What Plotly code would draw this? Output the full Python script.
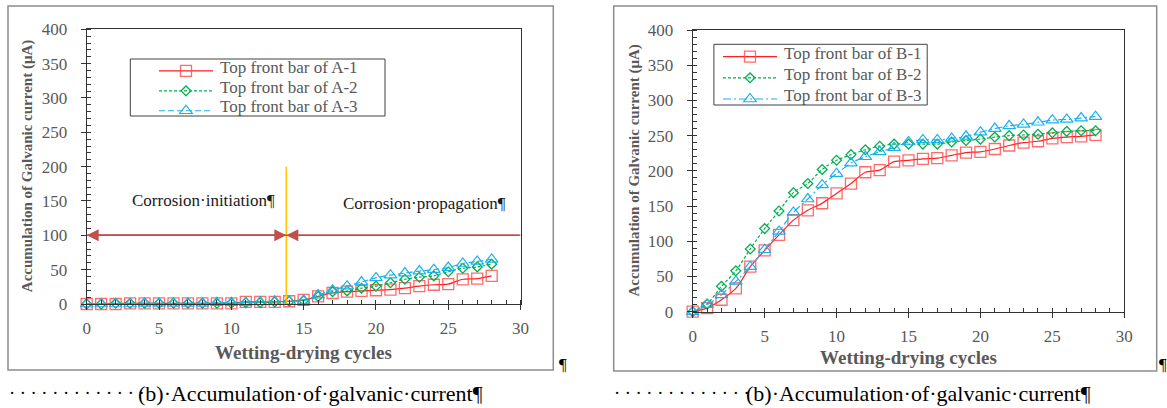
import plotly.graph_objects as go

# ---------------- data ----------------
cycles = list(range(0, 29))

a1 = [0, 0, 0, 1, 1, 1, 1, 1, 1, 1, 1, 3, 3, 3, 4, 6, 11, 16, 18, 19, 20, 21, 23, 26, 28, 29, 36, 37, 41]
a2 = [0, 0, 1, 1, 1, 1, 1, 1, 1, 1, 1, 2, 2, 3, 4, 5, 11, 18, 19, 23, 26, 31, 36, 39, 41, 47, 52, 54, 58]
a3 = [0, 0, 0, 0, 1, 1, 1, 1, 1, 2, 2, 2, 3, 4, 4, 5, 13, 20, 26, 32, 38, 42, 45, 48, 50, 53, 59, 62, 65]

b1 = [0, 5, 17, 33, 64, 87, 109, 130, 144, 154, 168, 182, 198, 201, 213, 215, 217, 218, 222, 226, 227, 231, 236, 240, 242, 246, 248, 249, 251]
b2 = [0, 11, 36, 58, 89, 118, 143, 169, 182, 202, 215, 223, 230, 235, 238, 238, 238, 238, 241, 243, 245, 248, 250, 251, 252, 254, 256, 257, 257]
b3 = [0, 10, 24, 43, 64, 88, 114, 141, 160, 180, 196, 211, 220, 227, 233, 241, 244, 244, 246, 249, 255, 260, 264, 266, 269, 272, 273, 275, 277]

names_a = ["Top front bar of A-1", "Top front bar of A-2", "Top front bar of A-3"]
names_b = ["Top front bar of B-1", "Top front bar of B-2", "Top front bar of B-3"]

x_range = [0, 30]
y_range = [0, 400]
x_ticks = [0, 5, 10, 15, 20, 25, 30]
y_ticks = [0, 50, 100, 150, 200, 250, 300, 350, 400]

x_title = "Wetting-drying cycles"
y_title = "Accumulation of Galvanic current (μA)"
caption = "(b)·Accumulation·of·galvanic·current¶"

# annotation values on chart A
stage_boundary = 13.8      # cycle where propagation starts
arrow_level = 100          # y level of the stage arrows
boundary_top = 200         # top of the orange boundary line
label_init = "Corrosion·initiation¶"
label_prop = "Corrosion·propagation¶"
label_init_pos = (3.0, 151)
label_prop_pos = (17.6, 147)

# ---------------- layout helpers ----------------
W, H = 1167, 408
def fx(px):
    return px / W
def fy(py):
    return 1 - py / H

SERIF = "Liberation Serif"
GREY = "#595959"
AXC = "#333333"

RED_L = "#FF1F1F"
RED_M = "rgba(255,70,70,0.8)"
GRN = "#00B050"
BLU = "#1AB2EE"

fig = go.Figure()

def add_series(xa, ya, leg, vals, name, kind):
    if kind == 0:
        line = dict(color=RED_L, width=1.2, shape="spline", smoothing=0.8)
        marker = dict(symbol="square-open", size=11, color=RED_M, line=dict(width=1.3, color=RED_M))
    elif kind == 1:
        line = dict(color=GRN, width=1.2, dash="3px,2px", shape="spline", smoothing=0.8)
        marker = dict(symbol="diamond-open", size=7.5, color=GRN, line=dict(width=1.3, color=GRN))
    else:
        line = dict(color=BLU, width=1.2, dash=("6px,3px" if leg == "legend" else "8px,3px,2px,3px"),
                    shape="spline", smoothing=0.8)
        marker = dict(symbol="triangle-up-open", size=11, color=BLU, line=dict(width=1.2, color=BLU))
    # legend text is written as annotations below (to keep Word-like row spacing)
    fig.add_trace(go.Scatter(x=cycles, y=vals, name="", mode="lines+markers",
                             line=line, marker=marker, xaxis=xa, yaxis=ya,
                             legend=leg, cliponaxis=False, hovertext=name))

for k, (v, n) in enumerate(zip([a1, a2, a3], names_a)):
    add_series("x", "y", "legend", v, n, k)
for k, (v, n) in enumerate(zip([b1, b2, b3], names_b)):
    add_series("x2", "y2", "legend2", v, n, k)

def xaxis_cfg(dom, anchor):
    return dict(domain=dom, anchor=anchor, range=x_range, tickvals=x_ticks, automargin=False,
                showgrid=False, zeroline=False, showline=True, linecolor=AXC, linewidth=1,
                mirror=True, ticks="outside", ticklen=5, tickcolor=AXC, tickwidth=1,
                minor=dict(dtick=1, ticks="inside", ticklen=4, tickcolor=AXC, tickwidth=1, showgrid=False),
                tickfont=dict(family=SERIF, size=17, color=GREY), ticklabelstandoff=4)

def yaxis_cfg(dom, anchor):
    return dict(domain=dom, anchor=anchor, range=y_range, tickvals=y_ticks, automargin=False,
                showgrid=False, zeroline=False, showline=True, linecolor=AXC, linewidth=1,
                mirror=True, ticks="outside", ticklen=5, tickcolor=AXC, tickwidth=1,
                minor=dict(dtick=10, ticks="inside", ticklen=4, tickcolor=AXC, tickwidth=1, showgrid=False),
                tickfont=dict(family=SERIF, size=17, color=GREY), ticklabelstandoff=10)

# plot areas (pixels)
L = dict(x0=86.7, x1=520.6, y0=29.3, y1=304.0)
R = dict(x0=692.7, x1=1124.3, y0=30.0, y1=311.7)

# legend rows (pixels)
LEG_L = dict(box=(130.3, 59, 385, 116), line_x=154, text_x=219, rows=[68, 87.5, 107], top=56)
LEG_R = dict(box=(713.9, 44.3, 927.2, 105), line_x=718, text_x=782.6, rows=[53.3, 74, 95], top=41)

fig.update_layout(
    width=W, height=H, margin=dict(l=0, r=0, t=0, b=0, pad=0, autoexpand=False),
    paper_bgcolor="white", plot_bgcolor="white",
    xaxis=xaxis_cfg([fx(L["x0"]), fx(L["x1"])], "y"),
    yaxis=yaxis_cfg([fy(L["y1"]), fy(L["y0"])], "x"),
    xaxis2=xaxis_cfg([fx(R["x0"]), fx(R["x1"])], "y2"),
    yaxis2=yaxis_cfg([fy(R["y1"]), fy(R["y0"])], "x2"),
    legend=dict(x=fx(LEG_L["line_x"]), y=fy(LEG_L["top"]), xanchor="left", yanchor="top",
                bgcolor="rgba(0,0,0,0)", borderwidth=0, font=dict(family=SERIF, size=13, color=GREY),
                itemwidth=54, tracegroupgap=0),
    legend2=dict(x=fx(LEG_R["line_x"]), y=fy(LEG_R["top"]), xanchor="left", yanchor="top",
                 bgcolor="rgba(0,0,0,0)", borderwidth=0, font=dict(family=SERIF, size=14, color=GREY),
                 itemwidth=54, tracegroupgap=0),
    showlegend=True,
)

shapes = []
# outer frames
shapes.append(dict(type="rect", xref="paper", yref="paper", x0=fx(8), x1=fx(553.3), y0=fy(370), y1=fy(6),
                   line=dict(color="#8c8c8c", width=1.5)))
shapes.append(dict(type="rect", xref="paper", yref="paper", x0=fx(613.7), x1=fx(1156.7), y0=fy(371), y1=fy(6),
                   line=dict(color="#8c8c8c", width=1.5)))
# legend frames
for LG in (LEG_L, LEG_R):
    bx0, by0, bx1, by1 = LG["box"]
    shapes.append(dict(type="rect", xref="paper", yref="paper", x0=fx(bx0), x1=fx(bx1), y0=fy(by1), y1=fy(by0),
                       line=dict(color="#404040", width=1)))
# boundary line and arrow shaft
shapes.append(dict(type="line", xref="x", yref="y", x0=stage_boundary, x1=stage_boundary, y0=0, y1=boundary_top,
                   line=dict(color="#FFC000", width=1.5)))
shapes.append(dict(type="line", xref="x", yref="y", x0=x_range[0], x1=x_range[1], y0=arrow_level, y1=arrow_level,
                   line=dict(color="#C0504D", width=1.5)))
fig.update_layout(shapes=shapes)

ann = []
ARC = "#C0504D"
def arrow(head_x, tail_x):
    return dict(x=head_x, y=arrow_level, ax=tail_x, ay=arrow_level, xref="x", yref="y", axref="x", ayref="y",
                text="", showarrow=True, arrowhead=2, arrowsize=1.6, arrowwidth=1.5, arrowcolor=ARC, standoff=0)
ann.append(arrow(x_range[0], stage_boundary))
ann.append(arrow(stage_boundary, x_range[0]))
ann.append(arrow(stage_boundary, x_range[1]))

ann.append(dict(x=label_init_pos[0], y=label_init_pos[1], xref="x", yref="y", text=label_init, showarrow=False,
                xanchor="left", yanchor="middle", font=dict(family=SERIF, size=17, color="#1a1a1a")))
ann.append(dict(x=label_prop_pos[0], y=label_prop_pos[1], xref="x", yref="y", text=label_prop, showarrow=False,
                xanchor="left", yanchor="middle", font=dict(family=SERIF, size=17, color="#1a1a1a")))

# legend labels
for LG, names in ((LEG_L, names_a), (LEG_R, names_b)):
    for ry, nm in zip(LG["rows"], names):
        ann.append(dict(x=fx(LG["text_x"]), y=fy(ry), xref="paper", yref="paper", text=nm, showarrow=False,
                        xanchor="left", yanchor="middle", borderpad=0,
                        font=dict(family=SERIF, size=17, color=GREY)))

# axis titles
for P, ty_x, tx_y in [(L, 27.5, 352.7), (R, 634.7, 357)]:
    ann.append(dict(x=fx((P["x0"] + P["x1"]) / 2), y=fy(tx_y), xref="paper", yref="paper", text="<b>%s</b>" % x_title,
                    showarrow=False, xanchor="center", yanchor="middle",
                    font=dict(family=SERIF, size=19, color=GREY)))
    ann.append(dict(x=fx(ty_x), y=fy((P["y0"] + P["y1"]) / 2), xref="paper", yref="paper",
                    text="<b>%s</b>" % y_title, textangle=-90,
                    showarrow=False, xanchor="center", yanchor="middle",
                    font=dict(family=SERIF, size=15, color=GREY)))

# captions (Word space-marks as dots, then the caption text)
dots = " ".join(["·"] * 13)
for dx, tx in [(8, 137), (612.7, 745)]:
    ann.append(dict(x=fx(dx), y=fy(393), xref="paper", yref="paper", text=dots, showarrow=False,
                    xanchor="left", yanchor="middle", borderpad=0,
                    font=dict(family=SERIF, size=18.5, color="#000000")))
    ann.append(dict(x=fx(tx), y=fy(393), xref="paper", yref="paper", text=caption, showarrow=False,
                    xanchor="left", yanchor="middle", borderpad=0,
                    font=dict(family=SERIF, size=22, color="#000000")))
# paragraph marks after the frames
for px in [558, 1157.5]:
    ann.append(dict(x=fx(px), y=fy(364), xref="paper", yref="paper", text="¶", showarrow=False,
                    xanchor="left", yanchor="middle", borderpad=0,
                    font=dict(family=SERIF, size=17, color="#000000")))

fig.update_layout(annotations=ann)

fig.write_html("out.html", config={"displayModeBar": False},
               post_script="document.body.style.margin='0px';")
